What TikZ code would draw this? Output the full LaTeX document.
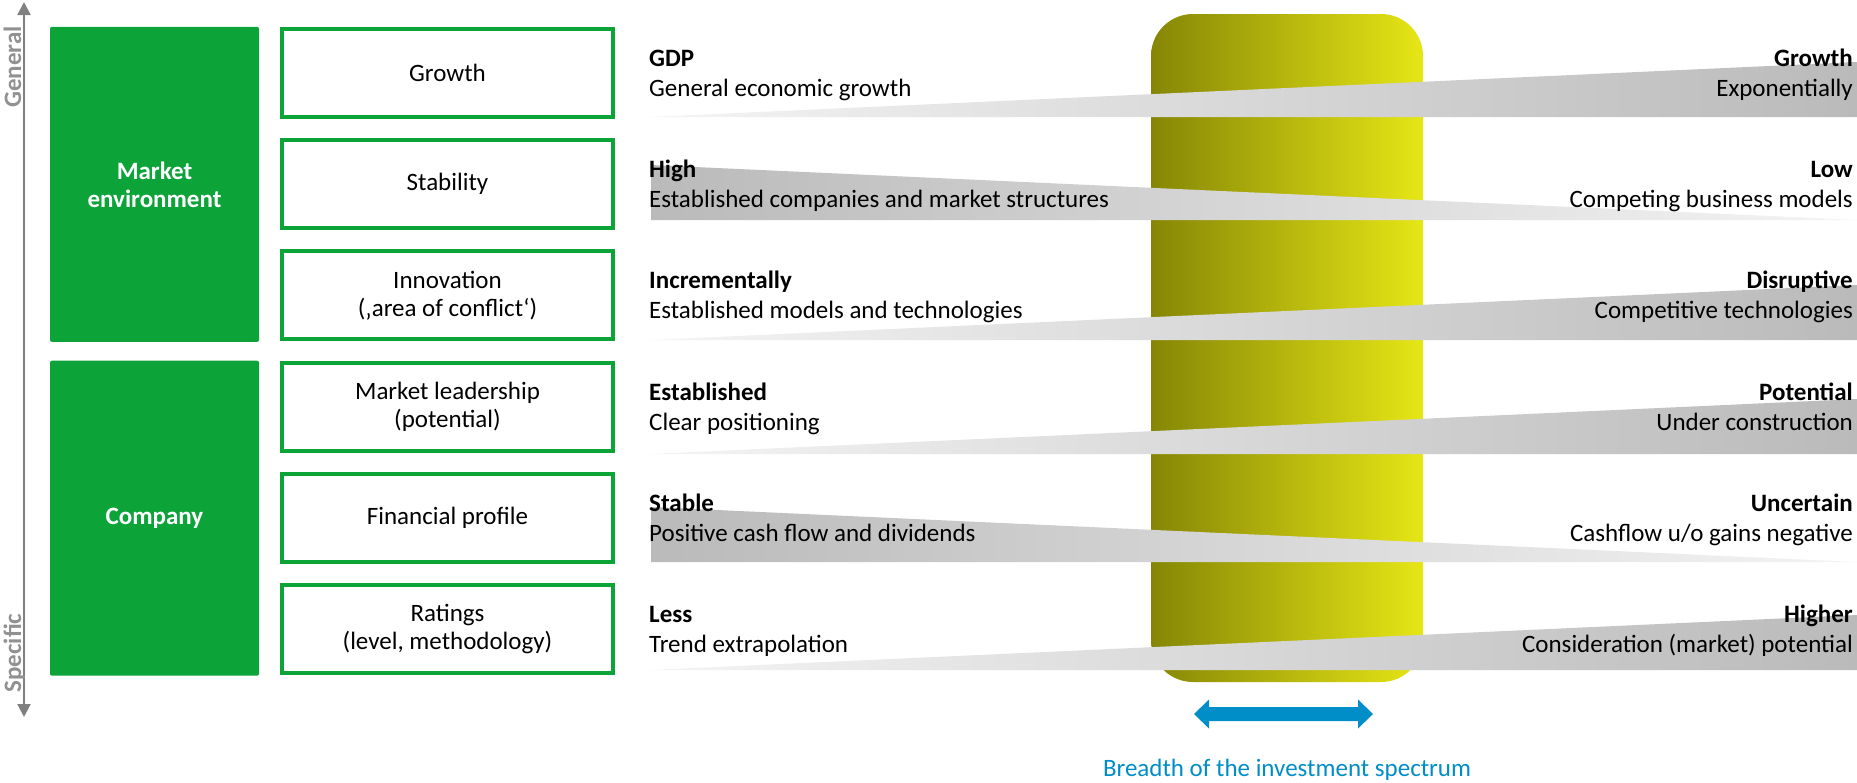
\documentclass[tikz,border=0pt]{standalone}
\usepackage{fontspec}
\setmainfont{Carlito}
\usetikzlibrary{arrows.meta}

\definecolor{brandgreen}{RGB}{12,163,57}
\definecolor{axisgray}{RGB}{128,128,128}
\definecolor{labelgray}{RGB}{145,145,145}
\definecolor{wedgelight}{RGB}{244,244,244}
\definecolor{wedgedark}{RGB}{186,186,186}
\definecolor{oliveleft}{RGB}{134,134,6}
\definecolor{oliveright}{RGB}{230,230,22}
\definecolor{spanblue}{RGB}{0,142,200}

\tikzset{axistip/.tip={Triangle[length=13pt,width=13pt]}}

\begin{document}
\begin{tikzpicture}[x=1pt,y=-1pt,
  every node/.style={font=\fontsize{25}{28}\selectfont, inner sep=0pt},
  groupbox/.style={fill=brandgreen, rounded corners=2pt, minimum width=209pt,
    minimum height=315pt, text=white, align=center,
    font=\fontsize{25}{28}\selectfont\bfseries},
  factorbox/.style={draw=brandgreen, line width=4pt, fill=white,
    minimum width=331pt, minimum height=88pt, align=center},
  lefthead/.style={anchor=base west, font=\fontsize{25}{28}\selectfont\bfseries},
  lefttext/.style={anchor=base west},
  righthead/.style={anchor=base east, font=\fontsize{25}{28}\selectfont\bfseries},
  righttext/.style={anchor=base east},
  axislabel/.style={rotate=90, anchor=base, text=labelgray,
    font=\fontsize{25}{28}\selectfont\bfseries},
  risewedge/.style={left color=wedgelight, right color=wedgedark},
  fallwedge/.style={left color=wedgedark, right color=wedgelight},
]
% canvas
\fill[white] (0,0) rectangle (1857,782);
\useasboundingbox (0,0) rectangle (1857,782);

% investment spectrum pillar
\shade[left color=oliveleft, right color=oliveright, rounded corners=42pt]
  (1151,14) rectangle (1423,682);

% gray wedges (bottom edge horizontal, 55 units tall at the wide end)
\shade[risewedge] (650,117) -- (1857,62)  -- (1857,117) -- cycle;
\shade[fallwedge] (651,165) -- (1857,220) -- (651,220)  -- cycle;
\shade[risewedge] (650,340) -- (1857,285) -- (1857,340) -- cycle;
\shade[risewedge] (650,454) -- (1857,399) -- (1857,454) -- cycle;
\shade[fallwedge] (651,507) -- (1857,562) -- (651,562)  -- cycle;
\shade[risewedge] (650,670) -- (1857,615) -- (1857,670) -- cycle;

% general / specific axis
\coordinate (axtop) at (24,2);
\coordinate (axbot) at (24,717);
\draw[axisgray, line width=2pt, axistip-axistip] (axtop) -- (axbot);
\node[axislabel] (general) at (21,67) {General};
\node[axislabel] (specific) at (21,653) {Specific};

% groups
\node[groupbox] (market) at (154.5,184.4) {Market\\environment};
\node[groupbox] (company) at (154.5,518.2) {Company};

% factors
\node[factorbox] (growth)     at (447.5,73)    {Growth};
\node[factorbox] (stability)  at (447.5,184.2) {Stability};
\node[factorbox] (innovation) at (447.5,295.4) {Innovation\\(‚area of conflict‘)};
\node[factorbox] (leadership) at (447.5,406.6) {Market leadership\\(potential)};
\node[factorbox] (financial)  at (447.5,517.8) {Financial profile};
\node[factorbox] (ratings)    at (447.5,629)   {Ratings\\(level, methodology)};

% left end of the spectrum
\node[lefthead] (l1h) at (649,66.7)  {GDP};
\node[lefttext] (l1t) at (649,96.7)  {General economic growth};
\node[lefthead] (l2h) at (649,177.8) {High};
\node[lefttext] (l2t) at (649,207.8) {Established companies and market structures};
\node[lefthead] (l3h) at (649,288.9) {Incrementally};
\node[lefttext] (l3t) at (649,318.9) {Established models and technologies};
\node[lefthead] (l4h) at (649,400)   {Established};
\node[lefttext] (l4t) at (649,430)   {Clear positioning};
\node[lefthead] (l5h) at (649,511.1) {Stable};
\node[lefttext] (l5t) at (649,541.1) {Positive cash flow and dividends};
\node[lefthead] (l6h) at (649,622.2) {Less};
\node[lefttext] (l6t) at (649,652.2) {Trend extrapolation};

% right end of the spectrum
\node[righthead] (r1h) at (1853,66.7)  {Growth};
\node[righttext] (r1t) at (1853,96.7)  {Exponentially};
\node[righthead] (r2h) at (1853,177.8) {Low};
\node[righttext] (r2t) at (1853,207.8) {Competing business models};
\node[righthead] (r3h) at (1853,288.9) {Disruptive};
\node[righttext] (r3t) at (1853,318.9) {Competitive technologies};
\node[righthead] (r4h) at (1853,400)   {Potential};
\node[righttext] (r4t) at (1853,430)   {Under construction};
\node[righthead] (r5h) at (1853,511.1) {Uncertain};
\node[righttext] (r5t) at (1853,541.1) {Cashflow u/o gains negative};
\node[righthead] (r6h) at (1853,622.2) {Higher};
\node[righttext] (r6t) at (1853,652.2) {Consideration (market) potential};

% breadth arrow and caption
\fill[spanblue] (1194,714) -- (1209,699.5) -- (1209,707) -- (1358,707)
  -- (1358,699.5) -- (1373,714) -- (1358,728.5) -- (1358,721)
  -- (1209,721) -- (1209,728.5) -- cycle;
\node[anchor=base, text=spanblue] (breadth) at (1287,776) {Breadth of the investment spectrum};
\end{tikzpicture}
\end{document}
